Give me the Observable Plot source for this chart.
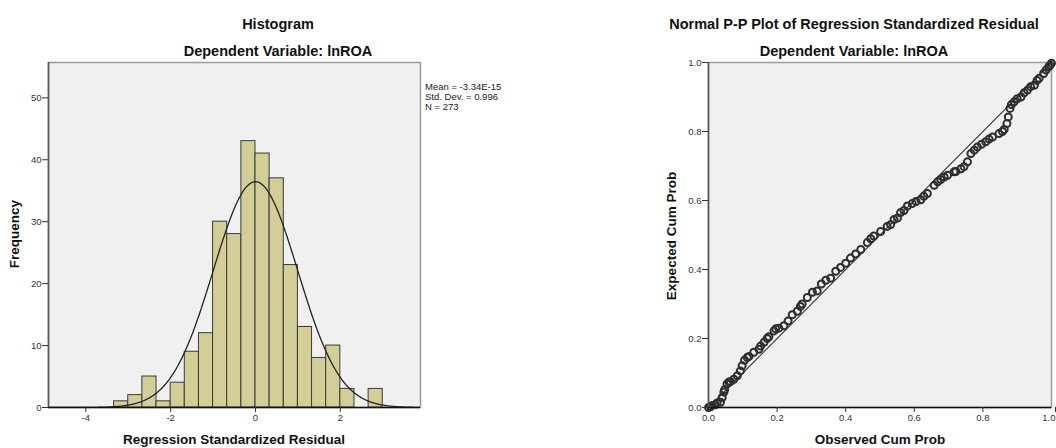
<!DOCTYPE html>
<html>
<head>
<meta charset="utf-8">
<script src="https://cdn.jsdelivr.net/npm/d3@7"></script>
<script src="https://cdn.jsdelivr.net/npm/@observablehq/plot@0.6"></script>
<style>
  html, body { margin: 0; padding: 0; background: #fff; }
  #wrap { position: relative; width: 1056px; height: 448px; overflow: hidden; font-family: "Liberation Sans", Arial, sans-serif; color: #111; }
  .abs { position: absolute; white-space: nowrap; line-height: 1; }
  .title { font-size: 14.5px; font-weight: bold; transform: translate(-50%, -50%); }
  .axlab { font-size: 13.5px; font-weight: bold; transform: translate(-50%, -50%); }
  .ylab { font-size: 13.5px; font-weight: bold; transform: translate(-50%, -50%) rotate(-90deg); }
  .legend { font-size: 9.5px; line-height: 10px; color: #222; }
  svg { position: absolute; top: 0; overflow: visible; }
</style>
</head>
<body>
<div id="wrap"></div>
<script>
// ---------- Histogram data ----------
const binLower = [-3.333, -3.000, -2.667, -2.333, -2.000, -1.667, -1.333, -1.000, -0.667, -0.333, 0.000, 0.333, 0.667, 1.000, 1.333, 1.667, 2.000, 2.333, 2.667];
const binUpper = [-3.000, -2.667, -2.333, -2.000, -1.667, -1.333, -1.000, -0.667, -0.333, 0.000, 0.333, 0.667, 1.000, 1.333, 1.667, 2.000, 2.333, 2.667, 3.000];
const counts   = [1, 2, 5, 1, 4, 9, 12, 30, 28, 43, 41, 37, 23, 13, 8, 10, 3, 0, 3];
const histXTicks = [-4, -2, 0, 2];
const histYTicks = [0, 10, 20, 30, 40, 50];
const histXDomain = [-4.88, 3.89];
const histYDomain = [0, 55.7];
const statMean = -3.34e-15;
const statSD = 0.996;
const statN = 273;
const binWidth = 1 / 3;
const legendLines = ["Mean = -3.34E-15", "Std. Dev. = 0.996", "N = 273"];

// ---------- P-P plot data ----------
const ppObserved = [0, 0.006, 0.011, 0.02, 0.025, 0.035, 0.04, 0.045, 0.047, 0.054, 0.06, 0.064, 0.074, 0.084, 0.093, 0.098, 0.105, 0.113, 0.118, 0.132, 0.147, 0.152, 0.162, 0.171, 0.176, 0.191, 0.196, 0.205, 0.22, 0.232, 0.244, 0.259, 0.268, 0.273, 0.288, 0.303, 0.317, 0.329, 0.342, 0.356, 0.371, 0.385, 0.4, 0.414, 0.429, 0.444, 0.463, 0.473, 0.482, 0.502, 0.521, 0.531, 0.541, 0.551, 0.56, 0.57, 0.58, 0.594, 0.605, 0.619, 0.628, 0.638, 0.658, 0.668, 0.677, 0.687, 0.697, 0.716, 0.721, 0.736, 0.745, 0.755, 0.765, 0.775, 0.784, 0.796, 0.808, 0.818, 0.828, 0.847, 0.857, 0.862, 0.870, 0.874, 0.879, 0.883, 0.891, 0.9, 0.911, 0.92, 0.930, 0.939, 0.950, 0.958, 0.964, 0.977, 0.984, 0.992, 0.996, 1.0];
const ppExpected = [0, 0.002, 0.006, 0.008, 0.013, 0.015, 0.029, 0.045, 0.052, 0.068, 0.074, 0.075, 0.082, 0.092, 0.106, 0.121, 0.137, 0.145, 0.148, 0.16, 0.169, 0.178, 0.189, 0.2, 0.205, 0.222, 0.228, 0.23, 0.237, 0.251, 0.269, 0.279, 0.293, 0.3, 0.319, 0.334, 0.338, 0.358, 0.369, 0.375, 0.395, 0.406, 0.418, 0.433, 0.445, 0.458, 0.478, 0.489, 0.497, 0.51, 0.525, 0.53, 0.545, 0.549, 0.565, 0.571, 0.584, 0.591, 0.597, 0.602, 0.612, 0.62, 0.644, 0.654, 0.661, 0.668, 0.673, 0.683, 0.684, 0.692, 0.698, 0.712, 0.736, 0.746, 0.755, 0.763, 0.77, 0.778, 0.784, 0.794, 0.8, 0.806, 0.823, 0.842, 0.867, 0.878, 0.886, 0.895, 0.9, 0.912, 0.92, 0.93, 0.934, 0.948, 0.954, 0.968, 0.978, 0.988, 0.992, 0.998];
const ppTicks = [0, 0.2, 0.4, 0.6, 0.8];
const ppLastTick = [1.0];
const diagonal = [0, 1];

const FONT = '"Liberation Sans", Arial, sans-serif';
const wrap = document.getElementById("wrap");

// ---------- Histogram ----------
const bars = binLower.map((lo, i) => ({lo, hi: binUpper[i], count: counts[i]})).filter(d => d.count > 0);
const curveX = d3.range(histXDomain[0], histXDomain[1] + 0.001, 0.02);
const curve = curveX.map(x => ({
  x,
  y: statN * binWidth * Math.exp(-0.5 * ((x - statMean) / statSD) ** 2) / (statSD * Math.sqrt(2 * Math.PI))
}));

const hist = Plot.plot({
  width: 530, height: 448,
  marginLeft: 48, marginRight: 110, marginTop: 62, marginBottom: 41,
  x: {domain: histXDomain},
  y: {domain: histYDomain},
  style: {fontFamily: FONT, fontSize: "9.5px", color: "#333", background: "transparent"},
  marks: [
    Plot.frame({fill: "#f0f0f0", stroke: "#9a9a9a", strokeWidth: 1.5}),
    Plot.rect(bars, {x1: "lo", x2: "hi", y1: 0, y2: "count", fill: "#d3ce97", stroke: "#3a3a3a", strokeWidth: 1}),
    Plot.line(curve, {x: "x", y: "y", stroke: "#222", strokeWidth: 1.3, clip: true}),
    Plot.ruleY([histYDomain[0]], {stroke: "#111", strokeWidth: 1.6}),
    Plot.ruleX([histXDomain[0]], {stroke: "#555", strokeWidth: 1.6}),
    Plot.axisX({ticks: histXTicks, tickSize: 5, tickPadding: 2, label: null, tickFormat: d => d < 0 ? "-" + Math.abs(d) : String(d)}),
    Plot.axisY({ticks: histYTicks, tickSize: 6, tickPadding: 1, label: null})
  ]
});
hist.style.left = "0px";
wrap.appendChild(hist);

// ---------- P-P plot ----------
const pts = ppObserved.map((o, i) => ({o, e: ppExpected[i]}));
const pp = Plot.plot({
  width: 526, height: 448,
  marginLeft: 178, marginRight: 5, marginTop: 62, marginBottom: 41,
  x: {domain: [0, 1]},
  y: {domain: [0, 1]},
  style: {fontFamily: FONT, fontSize: "9.5px", color: "#333", background: "transparent"},
  marks: [
    Plot.frame({fill: "#f0f0f0", stroke: "#9a9a9a", strokeWidth: 1.5}),
    Plot.line(diagonal.map(v => ({v})), {x: "v", y: "v", stroke: "#333", strokeWidth: 1.1}),
    Plot.dot(pts, {x: "o", y: "e", r: 3.5, stroke: "#2e2e2e", strokeWidth: 2, fill: "none"}),
    Plot.ruleY([0], {stroke: "#111", strokeWidth: 1.6}),
    Plot.ruleX([0], {stroke: "#555", strokeWidth: 1.6}),
    Plot.axisX({ticks: ppTicks, tickSize: 5, tickPadding: 2, label: null, tickFormat: d3.format(".1f")}),
    Plot.axisX({ticks: ppLastTick, tickSize: 5, tickPadding: 2, label: null, tickFormat: d3.format(".1f"), textAnchor: "end", dx: 4}),
    Plot.axisY({ticks: ppTicks.concat(ppLastTick), tickSize: 6, tickPadding: 1, label: null, tickFormat: d3.format(".1f")})
  ]
});
pp.style.left = "530px";
wrap.appendChild(pp);

// ---------- Text ----------
function addText(cls, text, x, y) {
  const d = document.createElement("div");
  d.className = "abs " + cls;
  d.textContent = text;
  d.style.left = x + "px";
  d.style.top = y + "px";
  wrap.appendChild(d);
  return d;
}
addText("title", "Histogram", 278, 24);
addText("title", "Dependent Variable: lnROA", 278, 51);
addText("axlab", "Regression Standardized Residual", 234, 440);
addText("ylab", "Frequency", 15, 234);
const leg = addText("legend", "", 425, 82);
leg.innerHTML = legendLines.join("<br>");

addText("title", "Normal P-P Plot of Regression Standardized Residual", 854, 24);
addText("title", "Dependent Variable: lnROA", 854, 51);
addText("axlab", "Observed Cum Prob", 880, 440);
addText("ylab", "Expected Cum Prob", 672, 236);
</script>
</body>
</html>
